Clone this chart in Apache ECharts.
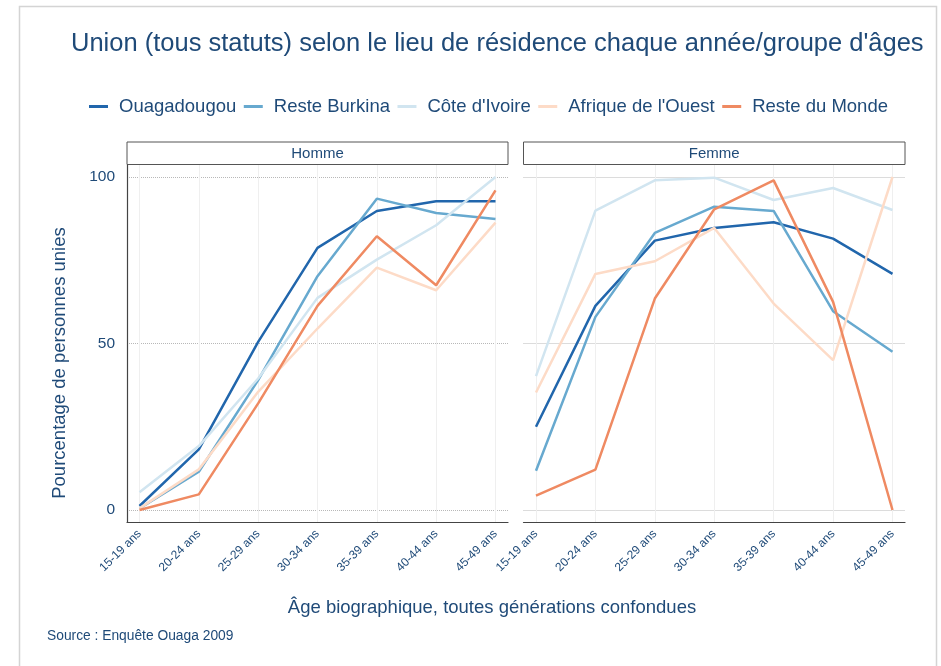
<!DOCTYPE html>
<html>
<head>
<meta charset="utf-8">
<script src="https://cdn.jsdelivr.net/npm/echarts@6/dist/echarts.min.js"></script>
<style>
  html, body { margin: 0; padding: 0; background: #fff; }
  #main { width: 941px; height: 666px; }
</style>
</head>
<body>
<div id="main"></div>
<script>
// groupes d'âges
const categories = ['15-19 ans', '20-24 ans', '25-29 ans', '30-34 ans', '35-39 ans', '40-44 ans', '45-49 ans'];
const lieux = ['Ouagadougou', 'Reste Burkina', "Côte d'Ivoire", "Afrique de l'Ouest", 'Reste du Monde'];
const yTicks = [0, 50, 100];

// Homme
const hommeOuagadougou = [1.2, 18.2, 50.5, 78.7, 89.8, 92.7, 92.7];
const hommeResteBurkina = [0.5, 11.5, 39, 70.2, 93.5, 89.2, 87.4];
const hommeCoteIvoire = [5.3, 19.2, 39.5, 63.7, 75.2, 85.5, 100];
const hommeAfriqueOuest = [0.5, 12.2, 35.5, 54.5, 72.8, 66, 86.3];
const hommeResteMonde = [0, 4.7, 32, 61.3, 82.2, 67.5, 96];

// Femme
const femmeOuagadougou = [25, 61.3, 80.9, 84.7, 86.4, 81.5, 70.9];
const femmeResteBurkina = [11.8, 58, 83.2, 91.1, 89.8, 59.7, 47.5];
const femmeCoteIvoire = [40.2, 89.9, 99, 99.8, 93.1, 96.7, 90.1];
const femmeAfriqueOuest = [35.3, 70.9, 74.7, 84.7, 62, 45, 100];
const femmeResteMonde = [4.3, 12.1, 63.5, 90.3, 99, 62.5, 0];

const couleurs = ['#2166ac', '#67a9cf', '#d1e5f0', '#fddbc7', '#ef8a62'];
const navy = '#1f4a78';
const font = 'Liberation Sans';

const panels = [
  { name: 'Homme', frameLeft: 127, frameWidth: 381, series: [hommeOuagadougou, hommeResteBurkina, hommeCoteIvoire, hommeAfriqueOuest, hommeResteMonde] },
  { name: 'Femme', frameLeft: 523.5, frameWidth: 381.5, series: [femmeOuagadougou, femmeResteBurkina, femmeCoteIvoire, femmeAfriqueOuest, femmeResteMonde] }
];

const chart = echarts.init(document.getElementById('main'));

const grids = [], xAxes = [], yAxes = [], series = [], graphics = [];
const panelTop = 165, panelBottom = 522, yTop = 177, yBottom = 510;
const pad = 12.5;

panels.forEach(function (p, pi) {
  const g0 = grids.length;
  // grille des données (avec marge aux bords)
  grids.push({ left: p.frameLeft + pad, width: p.frameWidth - 2 * pad, top: panelTop, height: panelBottom - panelTop });
  // grille de l'axe y (0..100)
  grids.push({ left: p.frameLeft, width: p.frameWidth, top: yTop, height: yBottom - yTop });
  // grille des lignes d'axes
  grids.push({ left: p.frameLeft, width: p.frameWidth, top: panelTop, height: panelBottom - panelTop });

  const span = (yBottom - yTop) / 100;
  xAxes.push({
    gridIndex: g0, type: 'category', data: categories, boundaryGap: false,
    axisLine: { show: false }, axisTick: { show: false },
    axisLabel: { rotate: 45, margin: 10, fontSize: 12, color: navy, fontFamily: font, interval: 0 },
    splitLine: { show: true, lineStyle: { color: '#efefef', width: 1 } }
  });
  yAxes.push({
    gridIndex: g0, type: 'value',
    min: -(panelBottom - yBottom) / span, max: 100 + (yTop - panelTop) / span,
    show: false
  });

  xAxes.push({ gridIndex: g0 + 1, type: 'value', show: false });
  yAxes.push({
    gridIndex: g0 + 1, type: 'value', min: yTicks[0], max: yTicks[yTicks.length - 1], interval: 50,
    axisLine: { show: false }, axisTick: { show: false },
    axisLabel: { show: pi === 0, fontSize: 15.5, color: navy, fontFamily: font, margin: 12 },
    splitLine: { show: true, lineStyle: { color: '#b8b8b8', type: 'dotted', width: 1 } }
  });

  xAxes.push({
    gridIndex: g0 + 2, type: 'value', min: 0, max: 1,
    axisLine: { show: true, onZero: false, lineStyle: { color: '#444', width: 1.2 } },
    axisTick: { show: false }, axisLabel: { show: false }, splitLine: { show: false }
  });
  yAxes.push({
    gridIndex: g0 + 2, type: 'value', min: 0, max: 1,
    axisLine: { show: pi === 0, onZero: false, lineStyle: { color: '#444', width: 1.2 } },
    axisTick: { show: false }, axisLabel: { show: false }, splitLine: { show: false }
  });

  p.series.forEach(function (vals, si) {
    series.push({
      name: lieux[si], type: 'line', xAxisIndex: g0, yAxisIndex: g0,
      data: vals, symbol: 'none', smooth: false,
      lineStyle: { color: couleurs[si], width: 2.5 },
      itemStyle: { color: couleurs[si] },
      z: 3 + si
    });
  });

  // bandeau du panneau
  graphics.push({
    type: 'rect', shape: { x: p.frameLeft, y: 142, width: p.frameWidth, height: 22.5 },
    style: { fill: '#fff', stroke: '#555', lineWidth: 1 }
  });
  graphics.push({
    type: 'text', x: p.frameLeft + p.frameWidth / 2, y: 153.5,
    style: { text: p.name, fill: navy, font: '15px "' + font + '"', textAlign: 'center', textVerticalAlign: 'middle' }
  });
});

// cadre gris
graphics.unshift({
  type: 'rect', shape: { x: 19.5, y: 6.5, width: 917, height: 700 },
  style: { fill: 'none', stroke: '#d4d4d4', lineWidth: 1.5 }, silent: true
});
graphics.push({
  type: 'text', x: 59.5, y: 363, rotation: Math.PI / 2,
  style: { text: 'Pourcentage de personnes unies', fill: navy, font: '18.5px "' + font + '"', textAlign: 'center', textVerticalAlign: 'middle' }
});
graphics.push({
  type: 'text', x: 492, y: 608,
  style: { text: 'Âge biographique, toutes générations confondues', fill: navy, font: '18.5px "' + font + '"', textAlign: 'center', textVerticalAlign: 'middle' }
});
graphics.push({
  type: 'text', x: 47, y: 636,
  style: { text: 'Source : Enquête Ouaga 2009', fill: navy, font: '13.8px "' + font + '"', textAlign: 'left', textVerticalAlign: 'middle' }
});

chart.setOption({
  animation: false,
  backgroundColor: '#fff',
  title: {
    text: "Union (tous statuts) selon le lieu de résidence chaque année/groupe d'âges",
    left: 66, top: 26,
    textStyle: { fontSize: 25.5, fontWeight: 'normal', color: navy, fontFamily: font }
  },
  legend: {
    data: lieux, left: 84, top: 92, icon: 'rect', itemWidth: 19, itemHeight: 3, itemGap: 7.5,
    textStyle: { fontSize: 18.5, color: navy, fontFamily: font, padding: [0, 0, 0, 6] }
  },
  grid: grids,
  xAxis: xAxes,
  yAxis: yAxes,
  series: series,
  graphic: graphics
});
</script>
</body>
</html>
